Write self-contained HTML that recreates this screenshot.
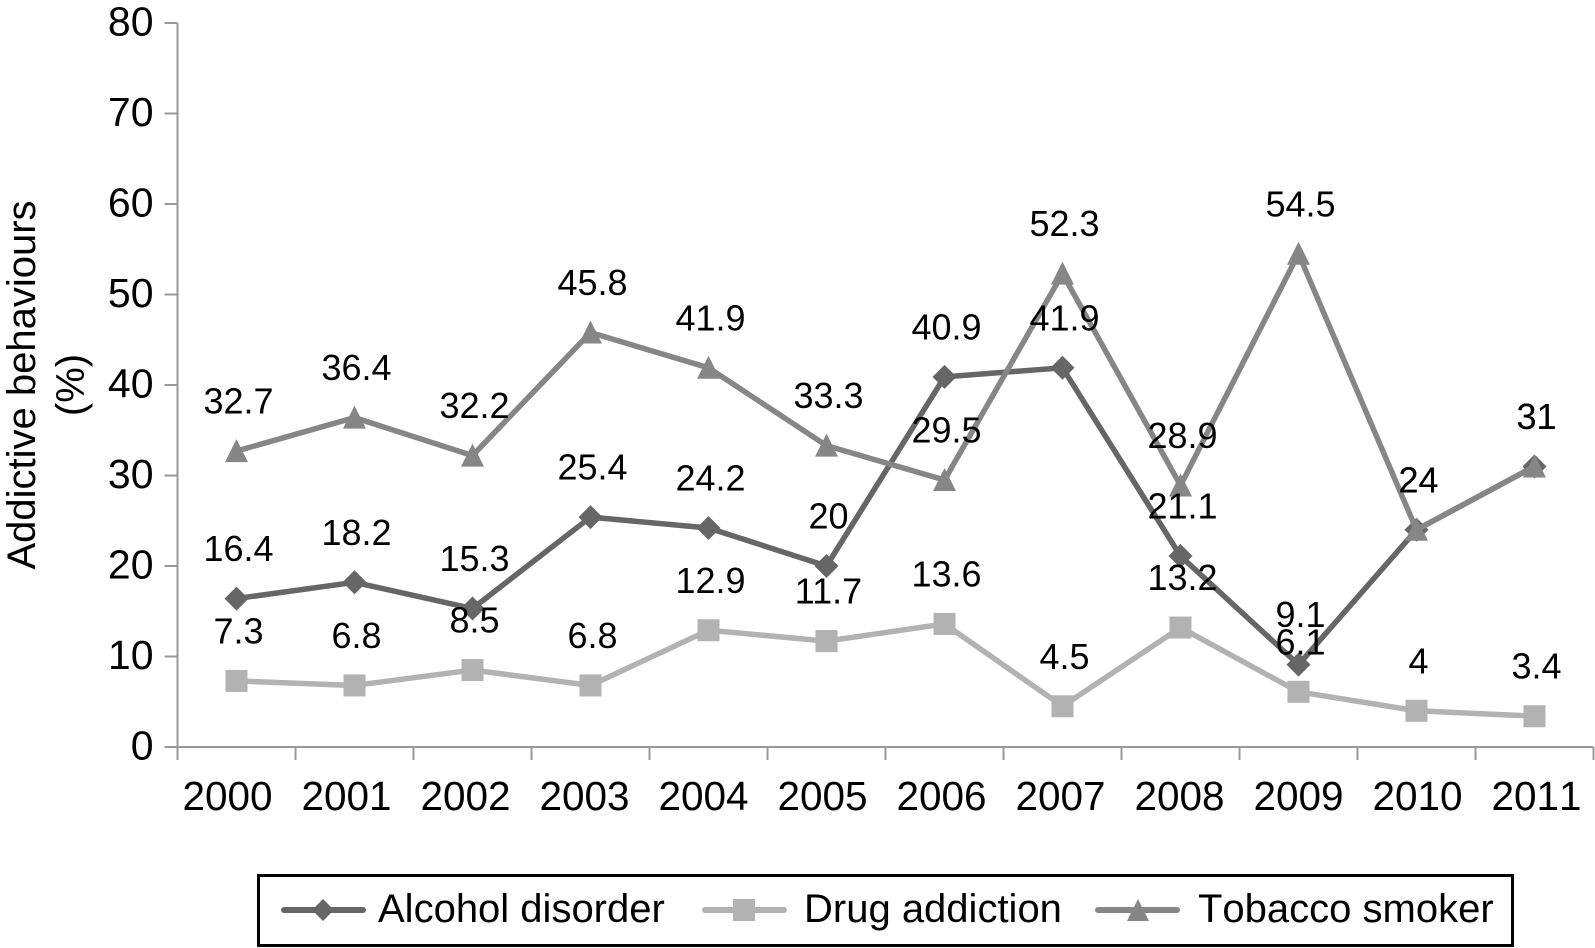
<!DOCTYPE html>
<html lang="en">
<head>
<meta charset="utf-8">
<title>Addictive behaviours 2000–2011</title>
<style>
  html, body { margin: 0; padding: 0; background: #fff; }
  body { width: 1595px; height: 948px; overflow: hidden; }
  svg { display: block; font-family: "Liberation Sans", Arial, sans-serif; fill: #000; }
  .no-kern { font-kerning: none; }
</style>
</head>
<body>
<svg id="chart" xmlns="http://www.w3.org/2000/svg" width="1595" height="948" viewBox="0 0 1595 948">
  <rect x="0" y="0" width="1595" height="948" fill="#ffffff"/>
  <g id="axes"></g>
  <g id="series"></g>
  <g id="labels"></g>

  <g font-size="40">
    <text transform="translate(35 385) rotate(-90)" text-anchor="middle">Addictive behaviours</text>
    <text transform="translate(84 385) rotate(-90)" text-anchor="middle">(%)</text>
  </g>

  <g>
    <rect x="258.5" y="875.5" width="1254" height="70" fill="#ffffff" stroke="#000000" stroke-width="3"/>

    <g>
      <line x1="284" y1="910" x2="363" y2="910" stroke="#666666" stroke-width="6" stroke-linecap="round"/>
      <polygon points="323,899 334,910 323,921 312,910" fill="#666666"/>
      <text x="378" y="922" font-size="40">Alcohol disorder</text>
    </g>

    <g>
      <line x1="705" y1="910" x2="784" y2="910" stroke="#b2b2b2" stroke-width="6" stroke-linecap="round"/>
      <rect x="733" y="899" width="22" height="22" fill="#b2b2b2"/>
      <text x="804" y="922" font-size="40">Drug addiction</text>
    </g>

    <g>
      <line x1="1098" y1="910" x2="1177" y2="910" stroke="#868686" stroke-width="6" stroke-linecap="round"/>
      <polygon points="1138,899 1149,921 1127,921" fill="#868686"/>
      <text class="no-kern" x="1198" y="922" font-size="40">Tobacco smoker</text>
    </g>
  </g>
</svg>

<script>
const categories = ["2000", "2001", "2002", "2003", "2004", "2005", "2006", "2007", "2008", "2009", "2010", "2011"];
const yTickLabels = [0, 10, 20, 30, 40, 50, 60, 70, 80];
const alcoholValues = [16.4, 18.2, 15.3, 25.4, 24.2, 20, 40.9, 41.9, 21.1, 9.1, 24, 31];
const drugValues = [7.3, 6.8, 8.5, 6.8, 12.9, 11.7, 13.6, 4.5, 13.2, 6.1, 4, 3.4];
const tobaccoValues = [32.7, 36.4, 32.2, 45.8, 41.9, 33.3, 29.5, 52.3, 28.9, 54.5, 24, 31];

const NS = "http://www.w3.org/2000/svg";
const PLOT_LEFT = 177.5, PLOT_RIGHT = 1593.5, PLOT_TOP = 23, PLOT_BOTTOM = 747;
const Y_MAX = 80;
const AXIS_COLOR = "#999999";

const bandWidth = (PLOT_RIGHT - PLOT_LEFT) / categories.length;
function xPos(i) { return PLOT_LEFT + bandWidth * (i + 0.5); }
function yPos(v) { return PLOT_BOTTOM - (v / Y_MAX) * (PLOT_BOTTOM - PLOT_TOP); }
function xLabelPos(i) { return 227.5 + 119 * i; }

function make(tag, attrs, parent) {
  const node = document.createElementNS(NS, tag);
  for (const k in attrs) node.setAttribute(k, attrs[k]);
  parent.appendChild(node);
  return node;
}

const axes = document.getElementById("axes");
const seriesLayer = document.getElementById("series");
const labelsLayer = document.getElementById("labels");

const yAxisLine = make("line", { x1: PLOT_LEFT, y1: PLOT_TOP, x2: PLOT_LEFT, y2: PLOT_BOTTOM + 13, stroke: AXIS_COLOR, "stroke-width": 2 }, axes);



const xAxisLine = make("line", { x1: PLOT_LEFT - 13, y1: PLOT_BOTTOM, x2: PLOT_RIGHT, y2: PLOT_BOTTOM, stroke: AXIS_COLOR, "stroke-width": 2 }, axes);



yTickLabels.forEach(function (v) {
  const y = yPos(v);
  const tick = make("line", { x1: PLOT_LEFT - 13, y1: y, x2: PLOT_LEFT, y2: y, stroke: AXIS_COLOR, "stroke-width": 2 }, axes);
  
  
  const label = make("text", { x: 153.5, y: y + 12.5, "text-anchor": "end", "font-size": 41 }, axes);
  
  
  label.textContent = v;
});

categories.forEach(function (c, i) {
  const edge = PLOT_LEFT + bandWidth * (i + 1);
  const tick = make("line", { x1: edge, y1: PLOT_BOTTOM, x2: edge, y2: PLOT_BOTTOM + 13, stroke: AXIS_COLOR, "stroke-width": 2 }, axes);
  
  
  const label = make("text", { x: xLabelPos(i), y: 810, "text-anchor": "middle", "font-size": 40.5, "class": "no-kern" }, axes);
  
  
  label.textContent = c;
});

function drawMarker(kind, x, y, color, parent) {
  if (kind === "diamond") {
    return make("polygon", { points: [x, y - 12, x + 12, y, x, y + 12, x - 12, y].join(","), fill: color }, parent);
  }
  if (kind === "square") {
    return make("rect", { x: x - 11, y: y - 11, width: 22, height: 22, fill: color }, parent);
  }
  return make("polygon", { points: [x, y - 12, x + 11.5, y + 11, x - 11.5, y + 11].join(","), fill: color }, parent);
}

function drawSeries(name, values, color, kind) {
  const group = make("g", {}, seriesLayer);
  
  

  const pts = values.map(function (v, i) { return xPos(i) + "," + yPos(v); }).join(" ");
  const line = make("polyline", { points: pts, fill: "none", stroke: color, "stroke-width": 5.5, "stroke-linejoin": "round" }, group);
  
  

  values.forEach(function (v, i) {
    const marker = drawMarker(kind, xPos(i), yPos(v), color, group);
    
    

    const label = make("text", { x: xPos(i) + 2, y: yPos(v) - 37.5, "text-anchor": "middle", "font-size": 36 }, labelsLayer);
    
    
    label.textContent = v;
  });
}

drawSeries("alcohol", alcoholValues, "#666666", "diamond");
drawSeries("drug", drugValues, "#b2b2b2", "square");
drawSeries("tobacco", tobaccoValues, "#868686", "triangle");
</script>
</body>
</html>
